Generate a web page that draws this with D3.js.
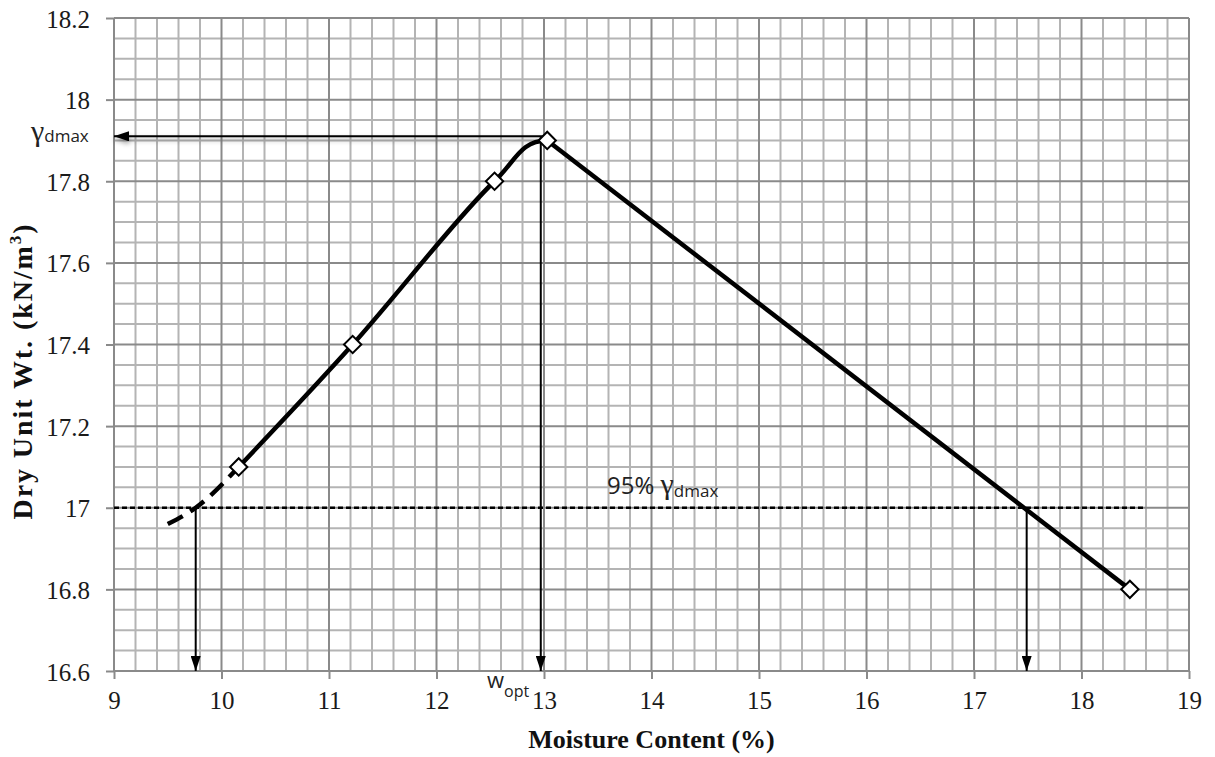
<!DOCTYPE html>
<html lang="en">
<head>
<meta charset="UTF-8">
<title>Compaction curve</title>
<script src="https://cdn.jsdelivr.net/npm/d3@7"></script>
<style>
    body { margin: 0; background: #fff; }
    svg { display: block; }
    .grid-minor { stroke: #b4b4b4; stroke-width: 2; }
    .grid-major { stroke: #8a8a8a; stroke-width: 2; }
    .tick text { font-family: "Liberation Serif", serif !important; font-size: 25px !important; fill: #1a1a1a; }
    .gamma { font-family: "Liberation Serif", serif; }
    .axis-title { font-family: "Liberation Serif", serif; font-size: 26px; font-weight: bold; fill: #111; }
    .note { font-family: "Open Sans", "Noto Sans", sans-serif; fill: #222; }
    .curve { fill: none; stroke: #000; stroke-width: 4.5; }
    .arrow { fill: none; stroke: #000; stroke-width: 2; }
</style>
</head>
<body>
<svg id="chart" width="1215" height="757"></svg>
<script>
    // values
    const moisture = [10.16, 11.22, 12.54, 13.03, 18.45];
    const dryUnitWt = [17.1, 17.4, 17.8, 17.9, 16.8];
    const extMoisture = [9.5, 9.76, 10.16];
    const extWt = [16.96, 17.0, 17.1];
    const gammaDmax = 17.91;
    const wOpt = 12.97;
    const wt95 = 17.0;
    const w95Low = 9.76;
    const w95High = 17.49;
    const line95End = 18.59;
    const xTicks = [9, 10, 11, 12, 13, 14, 15, 16, 17, 18, 19];
    const yTicks = [16.6, 16.8, 17, 17.2, 17.4, 17.6, 17.8, 18, 18.2];

    const margin = {top: 18, right: 26, bottom: 86, left: 114};
    const width = 1215, height = 757;

    const svg = d3.select("#chart");
    const x = d3.scaleLinear().domain([9, 19]).range([margin.left, width - margin.right]);
    const y = d3.scaleLinear().domain([16.6, 18.2]).range([height - margin.bottom, margin.top]);

    let defs = svg.append("defs");
    defs.append("marker")
        .attr("id", "head")
        .attr("viewBox", "0 0 15 10")
        .attr("refX", 15).attr("refY", 5)
        .attr("markerWidth", 15).attr("markerHeight", 10)
        .attr("markerUnits", "userSpaceOnUse")
        .attr("orient", "auto")
        .append("path").attr("d", "M0,0 L15,5 L0,10 z").attr("fill", "#000");
    defs.append("filter")
        .attr("id", "shadow")
        .attr("filterUnits", "userSpaceOnUse")
        .attr("x", 0).attr("y", 0).attr("width", width).attr("height", height)
        .append("feDropShadow")
        .attr("dx", 0).attr("dy", 3).attr("stdDeviation", 2.5)
        .attr("flood-color", "#000").attr("flood-opacity", 0.35);
    defs.append("clipPath")
        .attr("id", "rising")
        .append("rect")
        .attr("x", margin.left).attr("y", 0)
        .attr("width", x(moisture[3]) - margin.left).attr("height", height);

    // grid
    let grid = svg.append("g");
    grid.selectAll(".vx").data(x.ticks(50)).enter().append("line")
        .attr("class", d => Math.abs(d - Math.round(d)) < 1e-6 ? "grid-major" : "grid-minor")
        .attr("x1", d => x(d)).attr("x2", d => x(d))
        .attr("y1", y(18.2)).attr("y2", y(16.6));
    grid.selectAll(".hy").data(y.ticks(32)).enter().append("line")
        .attr("class", d => Math.abs(d * 5 - Math.round(d * 5)) < 1e-6 ? "grid-major" : "grid-minor")
        .attr("x1", x(9)).attr("x2", x(19))
        .attr("y1", d => y(d)).attr("y2", d => y(d));
    grid.selectAll(".grid-major").raise();

    // axes
    let xAxis = svg.append("g")
        .attr("transform", `translate(0,${y(16.6)})`)
        .call(d3.axisBottom(x).tickValues(xTicks).tickSize(8).tickFormat(d => d));
    xAxis.select(".domain").remove();
    xAxis.selectAll("line").attr("stroke", "#8a8a8a").attr("stroke-width", 2);
    xAxis.selectAll("text").attr("y", 38).attr("dy", null);

    let yAxis = svg.append("g")
        .attr("transform", `translate(${x(9)},0)`)
        .call(d3.axisLeft(y).tickValues(yTicks).tickSize(8).tickFormat(d => d));
    yAxis.select(".domain").remove();
    yAxis.selectAll("line").attr("stroke", "#8a8a8a").attr("stroke-width", 2);
    yAxis.selectAll("text").attr("x", -24).attr("dy", "0.36em");
    xAxis.attr("font-family", null).attr("font-size", null);
    yAxis.attr("font-family", null).attr("font-size", null);

    // 95% line
    svg.append("line")
        .attr("x1", x(9)).attr("x2", x(line95End))
        .attr("y1", y(wt95)).attr("y2", y(wt95))
        .attr("stroke", "#000").attr("stroke-width", 2.5)
        .attr("stroke-dasharray", "5,3");

    // arrows
    svg.append("line").attr("class", "arrow")
        .attr("x1", x(moisture[3])).attr("y1", y(gammaDmax))
        .attr("x2", x(9)).attr("y2", y(gammaDmax))
        .attr("filter", "url(#shadow)")
        .attr("marker-end", "url(#head)");
    const drops = [[wOpt, gammaDmax], [w95Low, wt95], [w95High, wt95]];
    svg.selectAll(".drop").data(drops).enter().append("line")
        .attr("class", "arrow")
        .attr("x1", d => x(d[0])).attr("x2", d => x(d[0]))
        .attr("y1", d => y(d[1])).attr("y2", y(16.6))
        .attr("marker-end", "url(#head)");

    // curve
    const pts = moisture.map((m, i) => [m, dryUnitWt[i]]);
    const smooth = d3.line().x(d => x(d[0])).y(d => y(d[1])).curve(d3.curveCatmullRom.alpha(0.5));
    svg.append("path").attr("class", "curve")
        .attr("clip-path", "url(#rising)")
        .attr("d", smooth(pts));
    svg.append("path").attr("class", "curve")
        .attr("d", d3.line().x(d => x(d[0])).y(d => y(d[1]))(pts.slice(3)));
    const ext = extMoisture.map((m, i) => [m, extWt[i]]);
    svg.append("path").attr("class", "curve")
        .attr("stroke-dasharray", "17,9")
        .attr("d", d3.line().x(d => x(d[0])).y(d => y(d[1])).curve(d3.curveMonotoneX)(ext));

    // markers
    svg.selectAll(".pt").data(pts).enter().append("path")
        .attr("d", d3.symbol(d3.symbolSquare, 150))
        .attr("transform", d => `translate(${x(d[0])},${y(d[1])}) rotate(45)`)
        .attr("fill", "#fff").attr("stroke", "#000").attr("stroke-width", 2);

    // notes
    let g1 = svg.append("text").attr("class", "note").attr("x", 31).attr("y", y(gammaDmax) + 5);
    g1.append("tspan").attr("class", "gamma").attr("font-size", 30).text("γ");
    g1.append("tspan").attr("font-size", 17).attr("dy", 1).text("dmax");

    let g2 = svg.append("text").attr("class", "note").attr("x", 607).attr("y", y(wt95) - 14);
    g2.append("tspan").attr("font-size", 24).text("95% ");
    g2.append("tspan").attr("class", "gamma").attr("font-size", 30).text("γ");
    g2.append("tspan").attr("font-size", 17).attr("dy", 3).text("dmax");

    let g3 = svg.append("text").attr("class", "note").attr("x", 487).attr("y", y(16.6) + 17);
    g3.append("tspan").attr("font-size", 22).text("w");
    g3.append("tspan").attr("font-size", 16).attr("dy", 9).text("opt");

    // axis titles
    svg.append("text").attr("class", "axis-title")
        .attr("x", (x(9) + x(19)) / 2).attr("y", 748)
        .attr("text-anchor", "middle")
        .text("Moisture Content (%)");
    let yt = svg.append("text").attr("class", "axis-title")
        .attr("transform", "translate(32,372) rotate(-90)")
        .attr("text-anchor", "middle")
        .style("font-size", "28px")
        .attr("textLength", 295)
        .attr("lengthAdjust", "spacing");
    yt.append("tspan").text("Dry Unit Wt. (kN/m");
    yt.append("tspan").attr("font-size", 17).attr("dy", -11).text("3");
    yt.append("tspan").attr("dy", 11).text(")");
</script>
</body>
</html>
